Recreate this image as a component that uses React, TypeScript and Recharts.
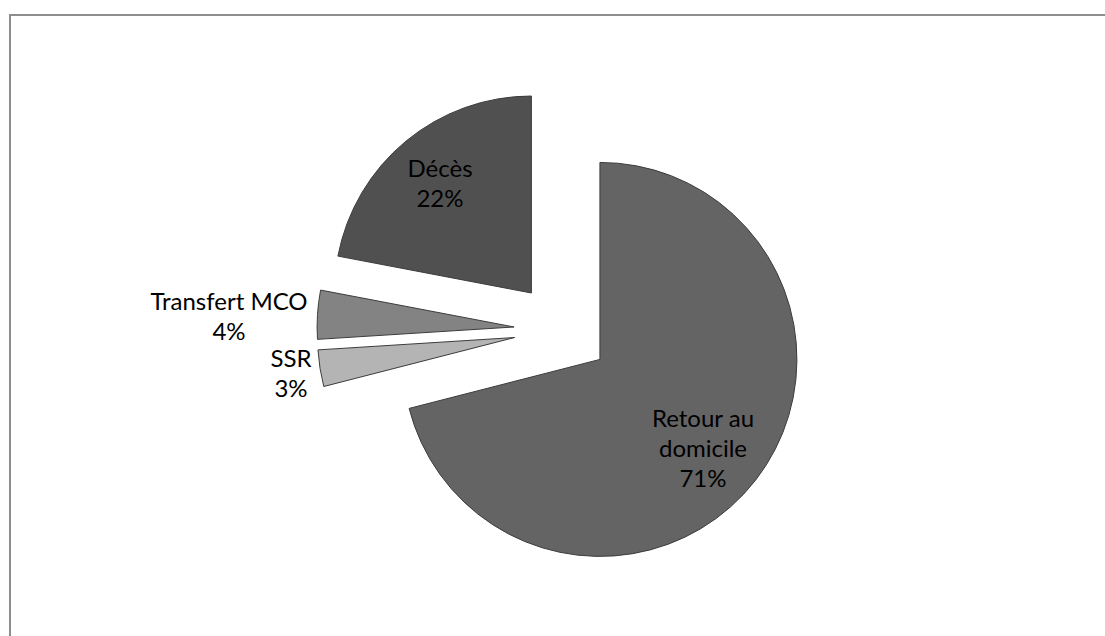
import { PieChart, Pie, Sector } from 'recharts';

const categories = ['Retour au domicile', 'SSR', 'Transfert MCO', 'Décès'];
const shares = [71, 3, 4, 22];
const labelLines = [['Retour au', 'domicile'], ['SSR'], ['Transfert MCO'], ['Décès']];
const sliceColors = ['#646464', '#b4b4b4', '#838383', '#505050'];

const data = categories.map((name, i) => ({ name, value: shares[i] }));

const EXPLODE = 48;
const RADIAN = Math.PI / 180;
// label text: centre x and first baseline, relative to the pie centre
const labelAnchors = [
  { dx: 141, dy: 97 },
  { dx: -271, dy: 37 },
  { dx: -333, dy: -20 },
  { dx: -122, dy: -153 },
];

function renderSlice(props: any) {
  const { cx, cy, innerRadius, outerRadius, startAngle, endAngle, midAngle, index, percent } = props;
  const ox = cx + EXPLODE * Math.cos(-midAngle * RADIAN);
  const oy = cy + EXPLODE * Math.sin(-midAngle * RADIAN);
  const lines = [...labelLines[index], `${Math.round(percent * 100)}%`];
  const a = labelAnchors[index];
  return (
    <g key={`slice-${index}`}>
      <Sector
        cx={ox}
        cy={oy}
        innerRadius={innerRadius}
        outerRadius={outerRadius}
        startAngle={startAngle}
        endAngle={endAngle}
        fill={sliceColors[index]}
        stroke="#3c3c3c"
        strokeWidth={1}
      />
      <text textAnchor="middle" fontFamily="Lato" fontSize={24} fill="#000">
        {lines.map((l, j) => (
          <tspan key={j} x={cx + a.dx} y={cy + a.dy + j * 30}>
            {l}
          </tspan>
        ))}
      </text>
    </g>
  );
}

export default function App() {
  return (
    <div
      style={{
        position: 'fixed',
        left: 0,
        top: 0,
        width: 1105,
        height: 636,
        overflow: 'hidden',
        background: '#fff',
      }}
    >
      <div
        style={{
          position: 'absolute',
          left: 9,
          top: 14,
          width: 1200,
          height: 700,
          borderTop: '2px solid #8d8d8d',
          borderLeft: '2px solid #8d8d8d',
        }}
      />
      <div style={{ position: 'absolute', left: 0, top: 0 }}>
        <PieChart width={1105} height={636} margin={{ top: 0, right: 0, bottom: 0, left: 0 }}>
          <Pie
            data={data}
            dataKey="value"
            nameKey="name"
            cx={562}
            cy={330}
            innerRadius={0}
            outerRadius={197}
            startAngle={90}
            endAngle={-270}
            fill="none"
            stroke="none"
            labelLine={false}
            label={renderSlice}
            isAnimationActive={false}
          />
        </PieChart>
      </div>
    </div>
  );
}
